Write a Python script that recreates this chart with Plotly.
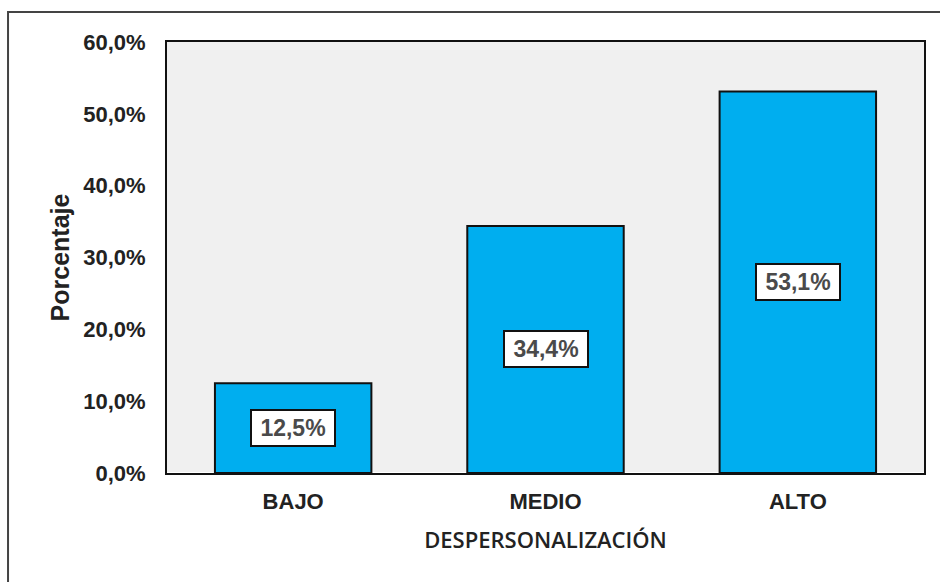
import plotly.graph_objects as go

categories = ["BAJO", "MEDIO", "ALTO"]
values = [12.5, 34.4, 53.1]
value_labels = ["12,5%", "34,4%", "53,1%"]
y_ticks = [0, 10, 20, 30, 40, 50, 60]
y_tick_labels = ["0,0%", "10,0%", "20,0%", "30,0%", "40,0%", "50,0%", "60,0%"]

fig = go.Figure()
fig.add_trace(go.Bar(
    x=categories, y=values, width=0.62,
    marker=dict(color="#00AEEF", line=dict(color="#111111", width=2)),
    hoverinfo="skip",
))

for c, v, t in zip(categories, values, value_labels):
    fig.add_annotation(
        x=c, y=v / 2, text="<b>" + t + "</b>", showarrow=False,
        font=dict(family="Liberation Sans, Arial", size=23, color="#4A4A4A"),
        bgcolor="white", bordercolor="#111111", borderwidth=2, borderpad=2,
        width=78, height=30,
    )

fig.add_shape(type="rect", xref="paper", yref="paper",
              x0=-0.21, x1=1.2, y0=-0.4, y1=1.0696,
              line=dict(color="#444444", width=2), fillcolor="rgba(0,0,0,0)",
              layer="below")

fig.update_layout(
    width=940, height=582,
    margin=dict(l=167, r=16, t=42, b=109),
    paper_bgcolor="white", plot_bgcolor="#F0F0F0",
    showlegend=False, bargap=0.38,
    font=dict(family="Liberation Sans, Arial", color="#222222"),
)
fig.update_xaxes(
    showline=True, linecolor="#111111", linewidth=2, mirror=True,
    showgrid=False, ticks="",
    tickfont=dict(size=22, color="#222222", family="Liberation Sans, Arial", weight="bold"),
    ticklabelstandoff=8,
    title=dict(text="DESPERSONALIZACIÓN", standoff=19,
               font=dict(size=22, color="#222222", family="Open Sans, Liberation Sans", weight=600)),
)
fig.update_yaxes(
    range=[0, 60], showline=True, linecolor="#111111", linewidth=2, mirror=True,
    showgrid=False, ticks="", tickvals=y_ticks, ticktext=y_tick_labels,
    tickfont=dict(size=22, color="#222222", family="Liberation Sans, Arial", weight="bold"),
    ticklabelstandoff=15,
    title=dict(text="Porcentaje", standoff=6,
               font=dict(size=25, color="#222222", family="Liberation Sans, Arial", weight="bold")),
)

fig.write_html("out.html")
